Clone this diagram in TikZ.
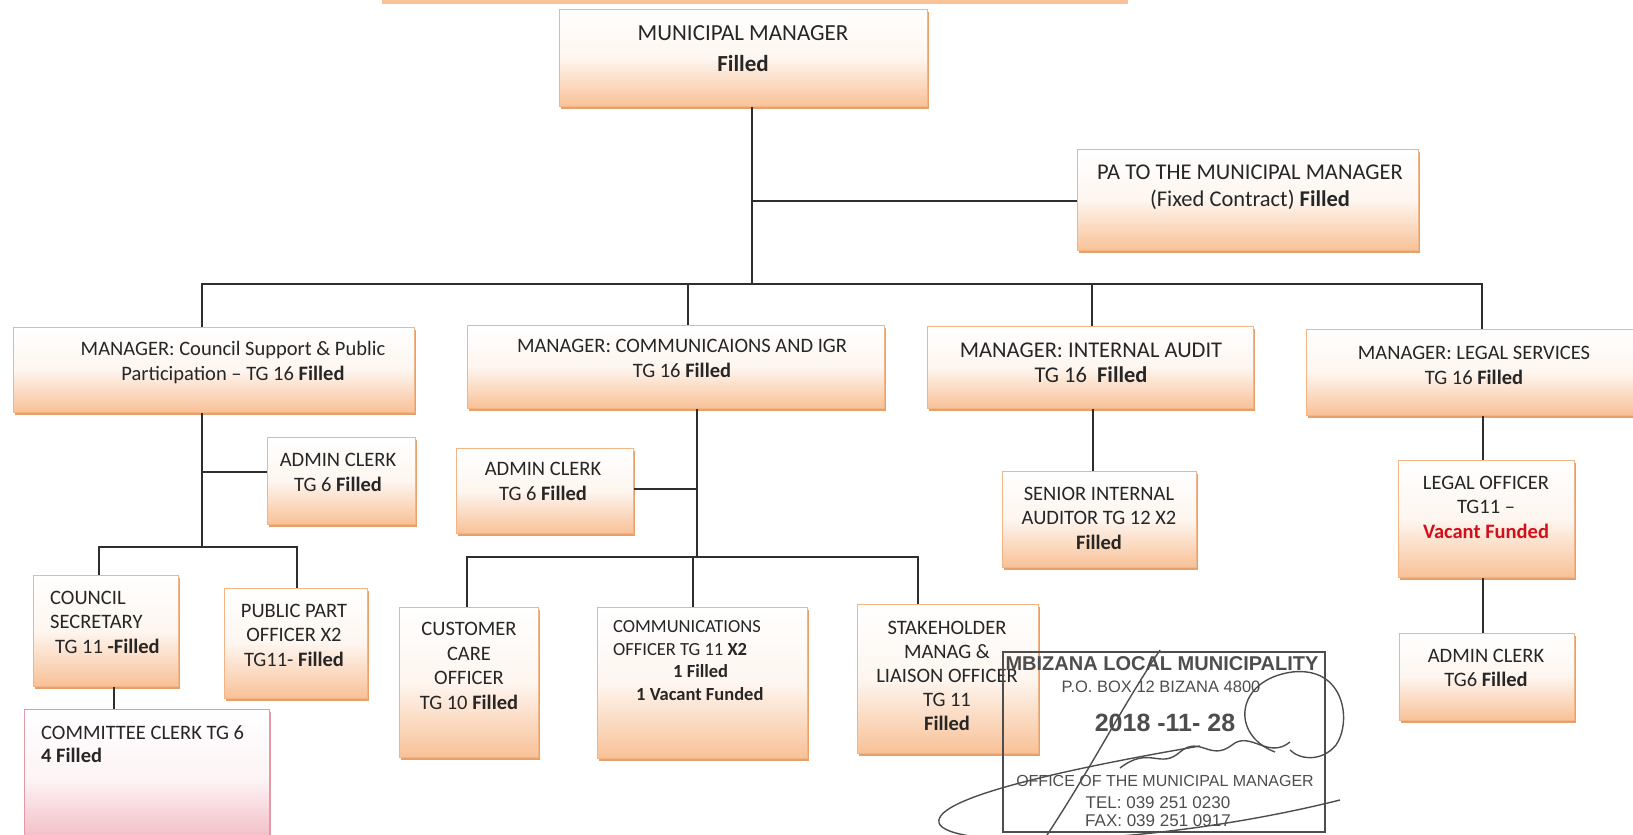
\documentclass[tikz,border=0pt]{standalone}
\usepackage{fontspec}
\setmainfont{Carlito}
\newfontfamily\stampfont{Liberation Sans}
\usetikzlibrary{shadows}
\definecolor{peach}{HTML}{F8C197}
\definecolor{peachline}{HTML}{F3B585}
\definecolor{peachshadow}{HTML}{E6A06C}
\definecolor{pinkbot}{HTML}{F0B3BD}
\definecolor{pinkline}{HTML}{E49AA6}
\definecolor{inkline}{HTML}{2E2E2E}
\definecolor{inktext}{HTML}{262626}
\definecolor{vacantred}{HTML}{D2101C}
\definecolor{stampink}{HTML}{4D4D4D}

\begin{document}
\begin{tikzpicture}[x=1pt, y=-1pt,
    orgbox/.style={line width=0.8pt, anchor=north west, inner sep=0pt},
    box/.style={orgbox, draw=peachline, top color=white, bottom color=peach, middle color=white!85!peach,
        general shadow={fill=peachshadow, shadow xshift=2pt, shadow yshift=-3pt}},
    pinkbox/.style={orgbox, draw=pinkline, top color=white, bottom color=pinkbot, middle color=white!85!pinkbot,
        general shadow={fill=pinkline, shadow xshift=2pt, shadow yshift=-3pt}},
    txt/.style={text=inktext, align=center, inner sep=0pt, anchor=base, font=\fontsize{20.5}{24.5}\selectfont},
    link/.style={draw=inkline, line width=1.5pt},
    stamptxt/.style={text=stampink, inner sep=0pt, anchor=base, font=\stampfont\fontsize{16}{18}\selectfont},
    sign/.style={draw=stampink, line width=1.4pt}]
    \useasboundingbox (0,0) rectangle (1633,835);
    \clip (0,0) rectangle (1633,835);
    \fill[peach] (382,0) rectangle (1128,4);
    % boxes
    \node[box, minimum width=368pt, minimum height=97pt] (mm) at (559,9) {};
    \node[box, minimum width=341pt, minimum height=101pt] (pa) at (1077,149) {};
    \node[box, minimum width=401pt, minimum height=85pt] (cspp) at (13,327) {};
    \node[box, minimum width=417pt, minimum height=83pt] (comm) at (467,325) {};
    \node[box, minimum width=326pt, minimum height=82pt] (ia) at (927,326) {};
    \node[box, minimum width=340pt, minimum height=86pt] (legal) at (1306,329) {};
    \node[box, minimum width=148pt, minimum height=87pt] (adm1) at (267,437) {};
    \node[box, minimum width=145pt, minimum height=111pt] (secr) at (33,575) {};
    \node[box, minimum width=143pt, minimum height=110pt] (pubp) at (224,588) {};
    \node[pinkbox, minimum width=245pt, minimum height=140pt] (cttee) at (24,709) {};
    \node[box, minimum width=177pt, minimum height=85pt] (adm2) at (456,448) {};
    \node[box, minimum width=139pt, minimum height=150pt] (cust) at (399,607) {};
    \node[box, minimum width=210pt, minimum height=151pt] (cmof) at (597,607) {};
    \node[box, minimum width=181pt, minimum height=149pt] (stak) at (857,604) {};
    \node[box, minimum width=194pt, minimum height=96pt] (senr) at (1002,471) {};
    \node[box, minimum width=176pt, minimum height=117pt] (lego) at (1398,460) {};
    \node[box, minimum width=175pt, minimum height=87pt] (adm3) at (1399,633) {};
    % texts (placed at the baseline of their last line)
    \node[txt, font=\fontsize{23}{31}\selectfont] (mm-t) at (743,71) {MUNICIPAL MANAGER\\\textbf{Filled}};
    \node[txt, font=\fontsize{22.5}{27}\selectfont] (pa-t) at (1250,206) {PA TO THE MUNICIPAL MANAGER\\(Fixed Contract) \textbf{Filled}};
    \node[txt] (cspp-t) at (233,380) {MANAGER: Council Support \& Public\\Participation – TG 16 \textbf{Filled}};
    \node[txt] (comm-t) at (682,377) {MANAGER: COMMUNICAIONS AND IGR\\TG 16 \textbf{Filled}};
    \node[txt, font=\fontsize{22.5}{25}\selectfont] (ia-t) at (1091,382) {MANAGER: INTERNAL AUDIT\\TG 16\ \ \textbf{Filled}};
    \node[txt] (legal-t) at (1474,384) {MANAGER: LEGAL SERVICES\\TG 16 \textbf{Filled}};
    \node[txt] (adm1-t) at (338,491) {ADMIN CLERK\\TG 6 \textbf{Filled}};
    \node[txt, anchor=base west, align=left] (secr-t) at (50,653) {COUNCIL\\SECRETARY\\\hspace*{5pt}TG 11 \textbf{-Filled}};
    \node[txt] (pubp-t) at (294,666) {PUBLIC PART\\OFFICER X2\\TG11- \textbf{Filled}};
    \node[txt, anchor=base west, align=left, font=\fontsize{20.5}{23}\selectfont] (cttee-t) at (41,762) {COMMITTEE CLERK TG 6\\\textbf{4 Filled}};
    \node[txt] (adm2-t) at (543,500) {ADMIN CLERK\\TG 6 \textbf{Filled}};
    \node[txt] (cust-t) at (469,709) {CUSTOMER\\CARE\\OFFICER\\TG 10 \textbf{Filled}};
    \node[txt, anchor=base west, align=left, font=\fontsize{18.5}{22.5}\selectfont] (cmof-t) at (613,700)
        {COMMUNICATIONS\\OFFICER TG 11 \textbf{X2}\\\hspace*{60pt}\textbf{1 Filled}\\\hspace*{23pt}\textbf{1 Vacant Funded}};
    \node[txt, font=\fontsize{20.5}{24}\selectfont] (stak-t) at (947,730) {STAKEHOLDER\\MANAG \&\\LIAISON OFFICER\\TG 11\\\textbf{Filled}};
    \node[txt] (senr-t) at (1099,549) {SENIOR INTERNAL\\AUDITOR TG 12 X2\\\textbf{Filled}};
    \node[txt] (lego-t) at (1486,538) {LEGAL OFFICER\\TG11 –\\\textcolor{vacantred}{\textbf{Vacant Funded}}};
    \node[txt, font=\fontsize{20.5}{24}\selectfont] (adm3-t) at (1486,686) {ADMIN CLERK\\TG6 \textbf{Filled}};
    % connectors
    \coordinate (mmdrop) at (752,284);
    \coordinate (pajoin) at (752,201);
    \coordinate (busL) at (202,284);
    \coordinate (busR) at (1482,284);
    \coordinate (comjoin) at (688,284);
    \coordinate (iajoin) at (1092,284);
    \draw[link] (mm.south -| mmdrop) -- (mmdrop);
    \draw[link] (pajoin) -- (pajoin -| pa.west);
    \draw[link] (cspp.north -| busL) |- (busR) -- (legal.north -| busR);
    \draw[link] (comjoin) -- (comjoin |- comm.north);
    \draw[link] (iajoin) -- (iajoin |- ia.north);
    \coordinate (csppdrop) at (202,547);
    \coordinate (adm1join) at (202,472);
    \coordinate (secrjoin) at (99,547);
    \coordinate (pubpjoin) at (297,547);
    \coordinate (cttjoin) at (114,700);
    \draw[link] (cspp.south -| csppdrop) -- (csppdrop);
    \draw[link] (adm1join) -- (adm1join -| adm1.west);
    \draw[link] (secr.north -| secrjoin) -- (secrjoin) -- (pubpjoin) -- (pubpjoin |- pubp.north);
    \draw[link] (secr.south -| cttjoin) -- (cttee.north -| cttjoin);
    \coordinate (commdrop) at (697,557);
    \coordinate (adm2join) at (697,489);
    \coordinate (custjoin) at (467,557);
    \coordinate (cmofjoin) at (693,557);
    \coordinate (stakjoin) at (918,557);
    \draw[link] (comm.south -| commdrop) -- (commdrop);
    \draw[link] (adm2join) -- (adm2join -| adm2.east);
    \draw[link] (cust.north -| custjoin) -- (custjoin) -- (stakjoin) -- (stakjoin |- stak.north);
    \draw[link] (cmofjoin) -- (cmofjoin |- cmof.north);
    \coordinate (senrjoin) at (1093,440);
    \coordinate (legjoin) at (1483,440);
    \draw[link] (ia.south -| senrjoin) -- (senr.north -| senrjoin);
    \draw[link] (legal.south -| legjoin) -- (lego.north -| legjoin);
    \draw[link] (lego.south -| legjoin) -- (adm3.north -| legjoin);
    % stamp
    \draw[stampink, line width=1.5pt] (1003,652) rectangle (1325,832);
    \node[stamptxt, font=\stampfont\bfseries\fontsize{20}{22}\selectfont] (st1) at (1162,670) {MBIZANA LOCAL MUNICIPALITY};
    \node[stamptxt, font=\stampfont\fontsize{16.5}{18}\selectfont] (st2) at (1161,692) {P.O. BOX 12 BIZANA 4800};
    \node[stamptxt, font=\stampfont\bfseries\fontsize{25}{28}\selectfont] (st3) at (1165,731) {2018 -11- 28};
    \node[stamptxt] (st4) at (1165,786) {OFFICE OF THE MUNICIPAL MANAGER};
    \node[stamptxt, font=\stampfont\fontsize{17}{18}\selectfont] (st5) at (1158,808) {TEL: 039 251 0230};
    \node[stamptxt, font=\stampfont\fontsize{17}{18}\selectfont] (st6) at (1158,826) {FAX: 039 251 0917};
    \draw[sign] (1340,800) .. controls (1160,845) and (960,850) .. (940,825) .. controls (925,800) and (1060,770) .. (1200,746);
    \draw[sign] (1120,768) .. controls (1150,745) and (1160,770) .. (1180,752) .. controls (1200,735) and (1210,762) .. (1232,745) .. controls (1250,730) and (1268,760) .. (1290,742);
    \draw[sign] (1275,752) .. controls (1230,735) and (1235,680) .. (1292,672) .. controls (1345,666) and (1352,722) .. (1336,745) .. controls (1322,762) and (1300,760) .. (1290,750);
    \draw[sign] (1047,835) .. controls (1090,770) and (1120,710) .. (1160,650);
\end{tikzpicture}
\end{document}
